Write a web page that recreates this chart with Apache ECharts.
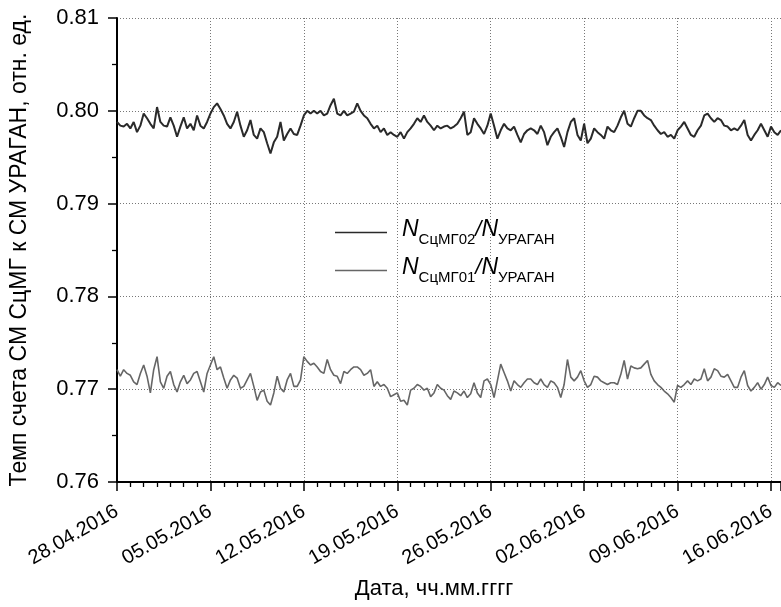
<!DOCTYPE html>
<html>
<head>
<meta charset="utf-8">
<script src="https://cdn.jsdelivr.net/npm/echarts@6/dist/echarts.min.js"></script>
<style>html,body{margin:0;padding:0;background:#fff;}#chart{width:781px;height:607px;}</style>
</head>
<body>
<div id="chart"></div>
<script>
// ---- data ----
const tickLabels = ['28.04.2016','05.05.2016','12.05.2016','19.05.2016','26.05.2016','02.06.2016','09.06.2016','16.06.2016'];
const dayStep = 0.25; // samples every 6 hours starting 28.04.2016
const seriesNames = ['MG02', 'MG01'];
// N_СцМГ02 / N_УРАГАН
const ratioMG02 = [
.7988,.7984,.7983,.7986,.7981,.7988,.7977,.7984,.7997,.7992,
.7986,.7981,.8004,.7988,.7984,.7983,.7993,.7984,.7972,.7983,
.7993,.7981,.7986,.7979,.7995,.7984,.7981,.7988,.7997,.8004,
.8008,.8002,.7995,.7986,.7981,.7988,.7999,.7984,.7972,.7979,
.7990,.7974,.7970,.7981,.7977,.7965,.7954,.7966,.7972,.7988,
.7968,.7975,.7981,.7975,.7974,.7984,.7995,.8000,.7997,.8000,
.7997,.8000,.7995,.7997,.8006,.8013,.7997,.7995,.8000,.7995,
.7997,.7999,.8008,.8000,.7995,.7992,.7986,.7981,.7984,.7977,
.7981,.7974,.7977,.7974,.7972,.7977,.7970,.7977,.7981,.7986,
.7992,.7988,.7995,.7988,.7984,.7979,.7984,.7981,.7983,
.7984,.7981,.7983,.7986,.7992,.7999,.7974,.7977,.7992,.7986,
.7981,.7975,.7984,.7997,.7984,.7970,.7979,.7986,.7981,.7979,
.7983,.7974,.7966,.7975,.7979,.7981,.7979,.7975,.7984,.7977,
.7963,.7972,.7977,.7981,.7972,.7961,.7977,.7988,.7992,.7974,
.7968,.7986,.7965,.7970,.7981,.7977,.7974,.7970,.7983,.7979,
.7977,.7984,.7993,.8000,.7986,.7983,.7992,.8000,.8000,.7995,
.7992,.7990,.7984,.7979,.7975,.7977,.7972,.7974,.7970,.7979,
.7983,.7988,.7981,.7974,.7972,.7979,.7984,.7995,.7997,.7992,
.7988,.7992,.7990,.7984,.7983,.7979,.7981,.7979,.7984,.7990,
.7974,.7968,.7974,.7979,.7986,.7979,.7972,.7983,.7977,.7974,
.7979
];
// N_СцМГ01 / N_УРАГАН
const ratioMG01 = [
.7721,.7714,.7721,.7717,.7715,.7708,.7705,.7717,.7726,.7714,
.7696,.7721,.7735,.7708,.7701,.7714,.7719,.7705,.7697,.7708,
.7715,.7706,.7710,.7717,.7719,.7708,.7697,.7717,.7726,.7735,
.7721,.7724,.7712,.7701,.7710,.7715,.7712,.7701,.7703,.7710,
.7717,.7703,.7688,.7697,.7699,.7687,.7683,.7696,.7714,.7701,
.7697,.7710,.7717,.7703,.7703,.7710,.7735,.7730,.7726,.7728,
.7724,.7719,.7717,.7732,.7721,.7715,.7714,.7706,.7719,.7717,
.7721,.7724,.7724,.7721,.7715,.7717,.7721,.7703,.7708,.7703,
.7705,.7701,.7692,.7694,.7696,.7687,.7688,.7683,.7699,.7701,
.7705,.7703,.7699,.7701,.7692,.7696,.7705,.7701,.7699,
.7693,.7689,.7698,.7696,.7693,.7698,.7691,.7695,.7707,.7696,
.7691,.7709,.7711,.7705,.7691,.7709,.7727,.7718,.7709,.7698,
.7709,.7705,.7702,.7707,.7711,.7711,.7707,.7705,.7711,.7705,
.7702,.7709,.7707,.7702,.7691,.7705,.7732,.7713,.7709,.7713,
.7720,.7709,.7702,.7705,.7714,.7713,.7709,.7707,.7705,.7707,
.7707,.7705,.7716,.7731,.7711,.7725,.7723,.7722,.7723,.7727,
.7731,.7716,.7709,.7705,.7702,.7698,.7695,.7691,.7686,.7704,
.7702,.7705,.7709,.7705,.7711,.7709,.7711,.7722,.7709,.7713,
.7722,.7720,.7714,.7713,.7716,.7709,.7702,.7702,.7713,.7720,
.7704,.7698,.7702,.7707,.7700,.7705,.7713,.7704,.7702,.7707,
.7704
];
const yMin = 0.76, yMax = 0.81, yStep = 0.01;
const xWeek = 7, xMax = 49.75;

// ---- chart ----
const font = 'Liberation Sans, Arial, sans-serif';
const nameMap = {
  MG02: '{g| }{n|N}{s|СцМГ02}{r|/}{n|N}{s|УРАГАН}',
  MG01: '{g| }{n|N}{s|СцМГ01}{r|/}{n|N}{s|УРАГАН}'
};
const toPairs = arr => arr.map((v, i) => [i * dayStep, v]);
const chart = echarts.init(document.getElementById('chart'), null, {renderer: 'canvas'});
chart.setOption({
  animation: false,
  backgroundColor: '#ffffff',
  textStyle: {fontFamily: font, color: '#000'},
  grid: {left: 114, right: 0, top: 18, bottom: 125, containLabel: false},
  legend: {
    orient: 'vertical', left: 330, top: 213, itemGap: 9,
    icon: 'rect', itemWidth: 52, itemHeight: 1.5,
    data: seriesNames,
    formatter: name => nameMap[name],
    textStyle: {
      fontFamily: font, color: '#000',
      rich: {
        g: {width: 10, fontSize: 10},
        n: {fontSize: 23, fontStyle: 'italic', fontFamily: font, color: '#000', padding: [0, 0, 6, 0], verticalAlign: 'bottom'},
        r: {fontSize: 22, fontStyle: 'italic', fontFamily: font, color: '#000', padding: [0, 0, 6, 0], verticalAlign: 'bottom'},
        s: {fontSize: 15, fontFamily: font, color: '#000', verticalAlign: 'bottom'}
      }
    }
  },
  xAxis: {
    type: 'value', min: 0, max: xMax, interval: xWeek,
    name: 'Дата, чч.мм.гггг', nameLocation: 'middle', nameGap: 96,
    nameTextStyle: {fontSize: 22, fontFamily: font, color: '#000', padding: [0, 30, 0, 0]},
    axisLine: {show: true, onZero: false, lineStyle: {color: '#000', width: 2}},
    axisTick: {show: true, inside: false, length: 9, lineStyle: {color: '#000', width: 1.5}},
    minorTick: {show: true, splitNumber: 7, length: 5, lineStyle: {color: '#000', width: 1.3}},
    axisLabel: {
      rotate: 30, fontSize: 20, margin: 28, color: '#000', fontFamily: font,
      showMaxLabel: false,
      formatter: v => (Math.abs(v / xWeek - Math.round(v / xWeek)) < 1e-6 ? (tickLabels[Math.round(v / xWeek)] || '') : '')
    },
    splitLine: {show: true, lineStyle: {color: '#777', type: [1, 2], width: 1}}
  },
  yAxis: {
    type: 'value', min: yMin, max: yMax, interval: yStep,
    name: 'Темп счета СМ СцМГ к СМ УРАГАН, отн. ед.', nameLocation: 'middle', nameGap: 86,
    nameTextStyle: {fontSize: 23, fontFamily: font, color: '#000'},
    axisLine: {show: true, lineStyle: {color: '#000', width: 2}},
    axisTick: {show: true, inside: false, length: 9, lineStyle: {color: '#000', width: 1.5}},
    minorTick: {show: true, splitNumber: 2, length: 5, lineStyle: {color: '#000', width: 1.3}},
    axisLabel: {fontSize: 22, margin: 18, color: '#000', fontFamily: font, formatter: v => v.toFixed(2)},
    splitLine: {show: true, lineStyle: {color: '#777', type: [1, 2], width: 1}}
  },
  series: [
    {name: 'MG02', type: 'line', data: toPairs(ratioMG02), showSymbol: false, color: '#2a2a2a', lineStyle: {width: 2, color: '#2a2a2a'}},
    {name: 'MG01', type: 'line', data: toPairs(ratioMG01), showSymbol: false, color: '#666666', lineStyle: {width: 1.6, color: '#666666'}}
  ]
});
</script>
</body>
</html>
